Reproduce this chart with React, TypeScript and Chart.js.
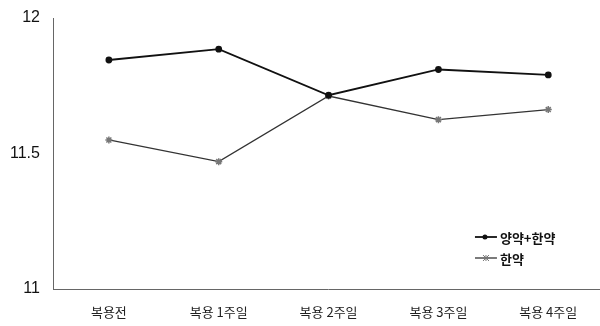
import React, { useEffect, useRef } from "react";
import { Chart, registerables } from "chart.js";

Chart.register(...registerables);

const categories = ["복용전", "복용 1주일", "복용 2주일", "복용 3주일", "복용 4주일"];
const seriesNames = ["양약+한약", "한약"];
const combinedValues = [11.845, 11.885, 11.715, 11.81, 11.79];
const herbalValues = [11.55, 11.47, 11.712, 11.625, 11.662];
const yTicks = [11, 11.5, 12];

const legendPlugin = {
  id: "insideLegend",
  afterDraw(chart: any) {
    const ctx = chart.ctx;
    const area = chart.chartArea;
    const x0 = area.left + 421;
    const y0 = area.top + 219;
    ctx.save();
    chart.data.datasets.forEach((ds: any, i: number) => {
      const y = y0 + i * 21;
      ctx.strokeStyle = ds.borderColor;
      ctx.lineWidth = ds.borderWidth;
      ctx.beginPath();
      ctx.moveTo(x0, y);
      ctx.lineTo(x0 + 22, y);
      ctx.stroke();
      ctx.fillStyle = ds.pointBackgroundColor;
      ctx.strokeStyle = ds.pointBorderColor;
      ctx.lineWidth = 1;
      if (ds.pointStyle === "circle") {
        ctx.beginPath();
        ctx.arc(x0 + 10, y, 2.5, 0, Math.PI * 2);
        ctx.fill();
      } else {
        const r = 3;
        ctx.beginPath();
        ctx.moveTo(x0 + 11 - r, y - r);
        ctx.lineTo(x0 + 11 + r, y + r);
        ctx.moveTo(x0 + 11 - r, y + r);
        ctx.lineTo(x0 + 11 + r, y - r);
        ctx.moveTo(x0 + 11, y - r);
        ctx.lineTo(x0 + 11, y + r);
        ctx.moveTo(x0 + 11 - r, y);
        ctx.lineTo(x0 + 11 + r, y);
        ctx.stroke();
      }
      ctx.fillStyle = "#111";
      ctx.font = "bold 13px 'Noto Sans CJK KR', sans-serif";
      ctx.textBaseline = "middle";
      ctx.textAlign = "left";
      ctx.fillText(ds.label, x0 + 25, y + 1);
    });
    ctx.restore();
  },
};

export default function App() {
  const ref = useRef<HTMLCanvasElement>(null);
  useEffect(() => {
    if (!ref.current) return;
    const chart = new Chart(ref.current, {
      type: "line",
      data: {
        labels: categories,
        datasets: [
          {
            label: seriesNames[0],
            data: combinedValues,
            borderColor: "#111",
            borderWidth: 1.8,
            pointStyle: "circle",
            pointRadius: 2.5,
            pointBackgroundColor: "#111",
            pointBorderColor: "#111",
            tension: 0,
          },
          {
            label: seriesNames[1],
            data: herbalValues,
            borderColor: "#333",
            borderWidth: 1.3,
            pointStyle: "star",
            pointRadius: 3.5,
            pointBorderWidth: 1.5,
            pointBackgroundColor: "#888",
            pointBorderColor: "#777",
            tension: 0,
          },
        ],
      },
      options: {
        animation: false,
        responsive: false,
        maintainAspectRatio: false,
        layout: { padding: { top: 18, right: 0, left: 4, bottom: 0 } },
        plugins: {
          legend: { display: false },
          tooltip: { enabled: false },
        },
        scales: {
          x: {
            offset: true,
            grid: { display: false },
            border: { display: true, color: "#666", width: 1 },
            ticks: {
              color: "#222",
              padding: 9,
              font: { size: 13, lineHeight: 1, family: "'Noto Sans CJK KR', sans-serif" },
              maxRotation: 0,
              autoSkip: false,
            },
          },
          y: {
            min: 11,
            max: 12,
            afterBuildTicks: (scale: any) => {
              scale.ticks = yTicks.map((v) => ({ value: v }));
            },
            grid: { display: false },
            border: { display: true, color: "#666", width: 1 },
            ticks: {
              color: "#111",
              padding: 6,
              font: { size: 16, family: "Arial, 'Liberation Sans', sans-serif" },
              callback: (v: any) => String(v),
            },
          },
        },
      },
      plugins: [legendPlugin],
    });
    return () => chart.destroy();
  }, []);
  return (
    <div style={{ position: "fixed", left: 0, top: 0, width: 600, height: 326, overflow: "hidden", background: "#fff" }}>
      <canvas ref={ref} width={609} height={328} style={{ width: 609, height: 328, display: "block" }} />
    </div>
  );
}
